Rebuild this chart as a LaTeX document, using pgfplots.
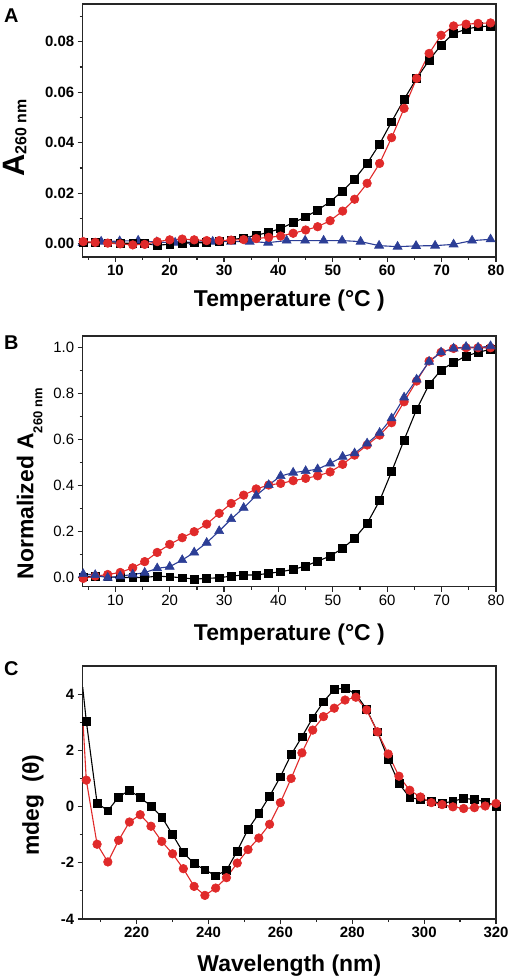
\documentclass[border=0pt]{standalone}
\usepackage{fontspec}
\setmainfont{Liberation Sans}
\usepackage{pgfplots}
\pgfplotsset{compat=1.18}
\definecolor{cred}{RGB}{224,42,42}
\definecolor{cblue}{RGB}{44,62,150}
\pgfplotsset{
  panel/.style={
    scale only axis, width=413.3bp,
    axis line style={line width=1.3bp, black!85},
    tick align=outside, tick pos=left,
    major tick length=5bp, minor tick length=3bp,
    tick style={line width=1.2bp, black!85},
    ticklabel style={font=\fontsize{15}{18}\selectfont\bfseries},
    /pgf/number format/assume math mode=true,
    label style={font=\fontsize{23}{26}\selectfont\bfseries},
    scaled ticks=false,
  },
  sq/.style={black, line width=1.1bp, mark=square*, mark size=3.9bp, mark options={solid, fill=black, draw=black, line width=0.6bp}},
  ci/.style={cred, line width=1.1bp, mark=*, mark size=4.3bp, mark options={solid, fill=cred, draw=cred, line width=0.6bp}},
  tr/.style={cblue, line width=1.1bp, mark=triangle*, mark size=5.2bp, mark options={solid, fill=cblue, draw=cblue, line width=0.6bp}},
}
\begin{document}
\begin{tikzpicture}
\path[use as bounding box] (0,0) rectangle (512bp,976bp);
\node[anchor=base west, inner sep=0, font=\fontsize{20}{20}\selectfont\bfseries] at (4bp,953bp) {A};
\node[anchor=base west, inner sep=0, font=\fontsize{20}{20}\selectfont\bfseries] at (4bp,626bp) {B};
\node[anchor=base west, inner sep=0, font=\fontsize{20}{20}\selectfont\bfseries] at (4bp,300bp) {C};

% ---------------- Panel A
\begin{axis}[panel, at={(82.7bp,719bp)}, anchor=south west, height=253bp,
  xmin=4, xmax=80, ymin=-0.0053, ymax=0.095,
  xtick={10,20,...,80}, minor xtick={5,15,...,75},
  ytick={0,0.02,0.04,0.06,0.08}, minor ytick={0.01,0.03,0.05,0.07,0.09},
  y tick label style={/pgf/number format/fixed, /pgf/number format/fixed zerofill, /pgf/number format/precision=2},
  xlabel={Temperature (°C )},
  ylabel={{\fontsize{31}{31}\selectfont A}\raisebox{-2bp}{\fontsize{16}{16}\selectfont 260 nm}},
  xlabel style={at={(axis description cs:0.5,-0.115)}, anchor=north},
  ylabel style={at={(axis description cs:-0.1275,0.47)}, anchor=south},
]
\addplot[tr] coordinates {
(4.0,0.0003) (7.4,0.0008) (10.8,0.0010) (14.2,0.0012) (17.6,0.0006) (21.0,0.0004)
(24.4,0.0006) (27.9,0.0008) (31.3,0.0008) (34.7,0.0008) (38.1,0.0004) (41.5,0.0012)
(44.9,0.0012) (48.3,0.0012) (51.7,0.0012) (55.1,0.0008) (58.5,-0.0008) (61.9,-0.0012)
(65.3,-0.0009) (68.8,-0.0008) (72.2,-0.0003) (75.6,0.0012) (79.0,0.0017)};
\addplot[sq] coordinates {
(4.1,0.0005) (6.3,0.0004) (8.6,0.0003) (10.9,0.0002) (13.2,0.0001) (15.4,0.0000)
(17.7,-0.0006) (20.0,-0.0003) (22.3,0.0002) (24.5,0.0003) (26.8,0.0004) (29.1,0.0008)
(31.3,0.0015) (33.6,0.0023) (35.9,0.0033) (38.2,0.0045) (40.4,0.0060) (42.7,0.0083)
(45.0,0.0106) (47.2,0.0133) (49.5,0.0166) (51.8,0.0209) (54.0,0.0256) (56.3,0.0318)
(58.6,0.0395) (60.8,0.0483) (63.1,0.0572) (65.4,0.0655) (67.7,0.0727) (69.9,0.0787)
(72.2,0.0833) (74.5,0.0850) (76.7,0.0860) (79.0,0.0862)};
\addplot[ci] coordinates {
(4.1,0.0008) (6.3,0.0005) (8.6,0.0002) (10.9,-0.0001) (13.2,-0.0005) (15.4,-0.0003)
(17.7,0.0008) (20.0,0.0015) (22.3,0.0018) (24.5,0.0015) (26.8,0.0012) (29.1,0.0012)
(31.3,0.0014) (33.6,0.0016) (35.9,0.0020) (38.2,0.0025) (40.4,0.0030) (42.7,0.0041)
(45.0,0.0054) (47.2,0.0067) (49.5,0.0091) (51.8,0.0129) (54.0,0.0176) (56.3,0.0239)
(58.6,0.0318) (60.8,0.0420) (63.1,0.0536) (65.4,0.0655) (67.7,0.0754) (69.9,0.0826)
(72.2,0.0863) (74.5,0.0870) (76.7,0.0873) (79.0,0.0875)};
\end{axis}

% ---------------- Panel B
\begin{axis}[panel, at={(82.7bp,389.3bp)}, anchor=south west, height=250.7bp,
  xmin=4, xmax=80, ymin=-0.039, ymax=1.051,
  ticklabel style={font=\fontsize{15}{18}\selectfont\mdseries},
  xtick={10,20,...,80}, minor xtick={5,15,...,75},
  ytick={0,0.2,0.4,0.6,0.8,1.0}, minor ytick={0.1,0.3,0.5,0.7,0.9},
  y tick label style={/pgf/number format/fixed, /pgf/number format/fixed zerofill, /pgf/number format/precision=1},
  xlabel={Temperature (°C )},
  ylabel={Normalized A\raisebox{-9bp}{\fontsize{13}{13}\selectfont 260 nm}},
  xlabel style={at={(axis description cs:0.5,-0.133)}, anchor=north},
  ylabel style={at={(axis description cs:-0.089,0.41)}, anchor=south},
]
\addplot[sq] coordinates {
(4.1,0.004) (6.3,0.007) (8.6,0.004) (10.9,0.001) (13.2,0.001) (15.4,0.001)
(17.7,0.007) (20.0,0.004) (22.3,0.000) (24.5,-0.006) (26.8,-0.003) (29.1,0.000)
(31.3,0.007) (33.6,0.012) (35.9,0.012) (38.2,0.019) (40.4,0.026) (42.7,0.036)
(45.0,0.051) (47.2,0.072) (49.5,0.094) (51.8,0.128) (54.0,0.171) (56.3,0.236)
(58.6,0.335) (60.8,0.461) (63.1,0.599) (65.4,0.732) (67.7,0.841) (69.9,0.903)
(72.2,0.936) (74.5,0.964) (76.7,0.980) (79.0,0.993)};
\addplot[ci] coordinates {
(4.1,-0.003) (6.3,0.007) (8.6,0.014) (10.9,0.023) (13.2,0.043) (15.4,0.070)
(17.7,0.110) (20.0,0.145) (22.3,0.174) (24.5,0.200) (26.8,0.233) (29.1,0.280)
(31.3,0.323) (33.6,0.359) (35.9,0.386) (38.2,0.403) (40.4,0.410) (42.7,0.422)
(45.0,0.432) (47.2,0.443) (49.5,0.460) (51.8,0.493) (54.0,0.533) (56.3,0.577)
(58.6,0.620) (60.8,0.674) (63.1,0.765) (65.4,0.855) (67.7,0.942) (69.9,0.980)
(72.2,0.997) (74.5,1.000) (76.7,1.000) (79.0,1.000)};
\addplot[tr] coordinates {
(4.1,0.016) (6.3,0.012) (8.6,0.000) (10.9,0.007) (13.2,0.014) (15.4,0.022)
(17.7,0.041) (20.0,0.048) (22.3,0.077) (24.5,0.110) (26.8,0.152) (29.1,0.203)
(31.3,0.255) (33.6,0.304) (35.9,0.357) (38.2,0.403) (40.4,0.442) (42.7,0.457)
(45.0,0.464) (47.2,0.472) (49.5,0.497) (51.8,0.526) (54.0,0.541) (56.3,0.584)
(58.6,0.630) (60.8,0.693) (63.1,0.784) (65.4,0.862) (67.7,0.939) (69.9,0.980)
(72.2,0.997) (74.5,1.004) (76.7,1.001) (79.0,1.007)};
\end{axis}

% ---------------- Panel C
\begin{axis}[panel, at={(82.7bp,57bp)}, anchor=south west, height=253bp,
  xmin=205, xmax=320, ymin=-4, ymax=5,
  xtick={220,240,...,320}, minor xtick={210,230,...,310},
  ytick={-4,-2,0,2,4}, minor ytick={-3,-1,1,3},
  xlabel={Wavelength (nm)},
  ylabel={mdeg\ \ (θ)},
  xlabel style={at={(axis description cs:0.5,-0.126)}, anchor=north},
  ylabel style={at={(axis description cs:-0.086,0.45)}, anchor=south},
]
\addplot[black, line width=1.1bp, forget plot] coordinates {
(205,4.25) (206,3.04) (209,0.13) (212,-0.15) (215,0.34) (218,0.58) (221,0.32) (224,0.02)
(227,-0.37) (230,-1.00) (233,-1.64) (236,-2.03) (239,-2.25) (242,-2.46) (245,-2.27)
(248,-1.58) (251,-0.81) (254,-0.25) (257,0.37) (260,1.06) (263,1.85) (266,2.48)
(269,3.16) (272,3.73) (275,4.17) (278,4.21) (281,4.00) (284,3.46) (287,2.66)
(290,1.69) (293,0.82) (296,0.32) (299,0.25) (302,0.20) (305,0.11) (308,0.19)
(311,0.29) (314,0.25) (317,0.17) (320,0.02)};
\addplot[sq, only marks] coordinates {
(206,3.04) (209,0.13) (212,-0.15) (215,0.34) (218,0.58) (221,0.32) (224,0.02)
(227,-0.37) (230,-1.00) (233,-1.64) (236,-2.03) (239,-2.25) (242,-2.46) (245,-2.27)
(248,-1.58) (251,-0.81) (254,-0.25) (257,0.37) (260,1.06) (263,1.85) (266,2.48)
(269,3.16) (272,3.73) (275,4.17) (278,4.21) (281,4.00) (284,3.46) (287,2.66)
(290,1.69) (293,0.82) (296,0.32) (299,0.25) (302,0.20) (305,0.11) (308,0.19)
(311,0.29) (314,0.25) (317,0.17) (320,0.02)};
\addplot[cred, line width=1.1bp, forget plot] coordinates {
(205,3.20) (206,0.94) (209,-1.34) (212,-1.97) (215,-1.20) (218,-0.55) (221,-0.29)
(224,-0.70) (227,-1.24) (230,-1.68) (233,-2.21) (236,-2.84) (239,-3.16) (242,-2.90)
(245,-2.53) (248,-2.01) (251,-1.53) (254,-1.12) (257,-0.63) (260,0.14) (263,1.00)
(266,1.91) (269,2.72) (272,3.20) (275,3.50) (278,3.79) (281,3.89) (284,3.44)
(287,2.66) (290,1.87) (293,1.08) (296,0.58) (299,0.34) (302,0.14) (305,0.07)
(308,-0.01) (311,-0.07) (314,-0.04) (317,0.02) (320,0.11)};
\addplot[ci, only marks] coordinates {
(206,0.94) (209,-1.34) (212,-1.97) (215,-1.20) (218,-0.55) (221,-0.29)
(224,-0.70) (227,-1.24) (230,-1.68) (233,-2.21) (236,-2.84) (239,-3.16) (242,-2.90)
(245,-2.53) (248,-2.01) (251,-1.53) (254,-1.12) (257,-0.63) (260,0.14) (263,1.00)
(266,1.91) (269,2.72) (272,3.20) (275,3.50) (278,3.79) (281,3.89) (284,3.44)
(287,2.66) (290,1.87) (293,1.08) (296,0.58) (299,0.34) (302,0.14) (305,0.07)
(308,-0.01) (311,-0.07) (314,-0.04) (317,0.02) (320,0.11)};
\end{axis}
\end{tikzpicture}
\end{document}
